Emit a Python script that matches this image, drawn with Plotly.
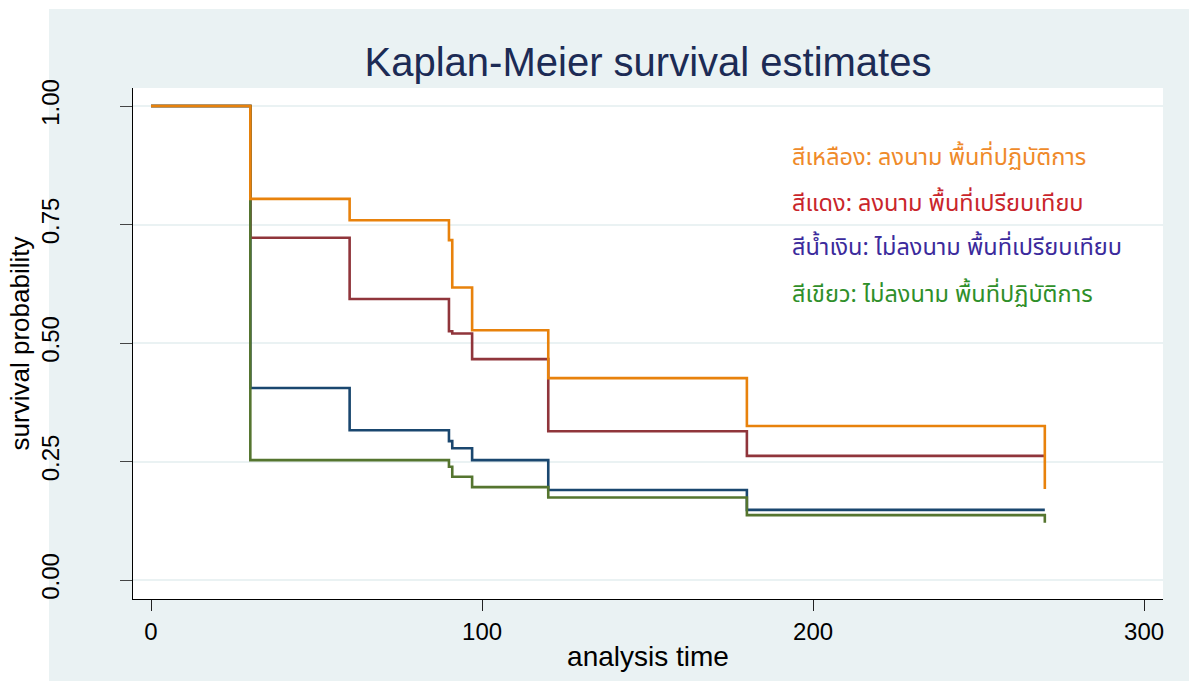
import plotly.graph_objects as go

# ---- data ----
times = [0, 30, 60, 90, 91, 97, 120, 180, 270]
surv_navy = [1.0, 0.405, 0.316, 0.293, 0.278, 0.253, 0.190, 0.148, 0.148]
surv_maroon = [1.0, 0.722, 0.593, 0.525, 0.520, 0.466, 0.314, 0.262, 0.262]
surv_green = [1.0, 0.253, 0.253, 0.239, 0.218, 0.196, 0.174, 0.137, 0.121]
surv_orange = [1.0, 0.804, 0.759, 0.717, 0.617, 0.527, 0.426, 0.325, 0.192]

legend_labels = [
    "สีเหลือง: ลงนาม พื้นที่ปฏิบัติการ",
    "สีแดง: ลงนาม พื้นที่เปรียบเทียบ",
    "สีน้ำเงิน: ไม่ลงนาม พื้นที่เปรียบเทียบ",
    "สีเขียว: ไม่ลงนาม พื้นที่ปฏิบัติการ",
]
legend_y = [0.89, 0.793, 0.700, 0.601]
legend_colors = ["#ef8a2a", "#c9252b", "#3b2a9c", "#2f8f2a"]

xticks = [0, 100, 200, 300]
yticks = [0, 0.25, 0.5, 0.75, 1.0]
yticklabels = ["0.00", "0.25", "0.50", "0.75", "1.00"]

PANEL = "#eaf2f3"
FONT = "Liberation Sans, Arial, sans-serif"
THAI = "Noto Sans Thai, Tahoma, Loma, Garuda, DejaVu Sans, sans-serif"

fig = go.Figure()
series = [
    (surv_navy, "#1a476f"),
    (surv_maroon, "#90353b"),
    (surv_green, "#55752f"),
    (surv_orange, "#e8820c"),
]
for s, c in series:
    fig.add_trace(go.Scatter(x=times, y=s, mode="lines", line=dict(color=c, width=2.6, shape="hv"),
                             showlegend=False, hoverinfo="skip"))

for txt, yy, col in zip(legend_labels, legend_y, legend_colors):
    fig.add_annotation(x=193, y=yy, xref="x", yref="y", text=txt, showarrow=False,
                       xanchor="left", yanchor="middle", font=dict(family=THAI, size=23.5, color=col))

W, H = 1189, 681
L, R, T, B = 133, 26, 88, 82
pw, ph = W - L - R, H - T - B
def px(x): return (x - L) / pw
def py(y): return (H - B - y) / ph

fig.add_shape(type="rect", xref="paper", yref="paper", x0=px(49), x1=px(W + 5), y0=py(H + 5), y1=py(9),
              layer="below", line_width=0, fillcolor=PANEL)
fig.add_shape(type="rect", xref="paper", yref="paper", x0=0, x1=1, y0=0, y1=1,
              layer="below", line_width=0, fillcolor="white")

fig.update_layout(
    width=W, height=H,
    margin=dict(l=L, r=R, t=T, b=B),
    paper_bgcolor="white", plot_bgcolor="white",
    title=dict(text="Kaplan-Meier survival estimates", x=0.5, xref="paper", y=1 - 62 / H, yanchor="middle",
               font=dict(family=FONT, size=40, color="#1c2b55")),
    xaxis=dict(range=[-5.44, 305.7], tickvals=xticks, ticks="outside", ticklen=11, tickcolor="#222",
               showline=True, linecolor="#000", linewidth=1.2, showgrid=False, zeroline=False,
               tickfont=dict(family=FONT, size=24, color="#000"),
               title=dict(text="analysis time", font=dict(family=FONT, size=28, color="#000"), standoff=2)),
    yaxis=dict(range=[-0.040, 1.038], tickvals=yticks, ticktext=yticklabels, ticks="outside", ticklen=12,
               tickcolor="#444", tickangle=-90, ticklabelstandoff=51,
               showline=True, linecolor="#000", linewidth=1.2, showgrid=True, gridcolor=PANEL, gridwidth=2,
               zeroline=False, tickfont=dict(family=FONT, size=24, color="#000"),
               title=dict(text="survival probability", font=dict(family=FONT, size=26, color="#000"), standoff=0)),
)

fig.write_html("out.html", config={"displayModeBar": False},
               post_script="document.body.style.margin='0';document.body.style.overflow='hidden';")
